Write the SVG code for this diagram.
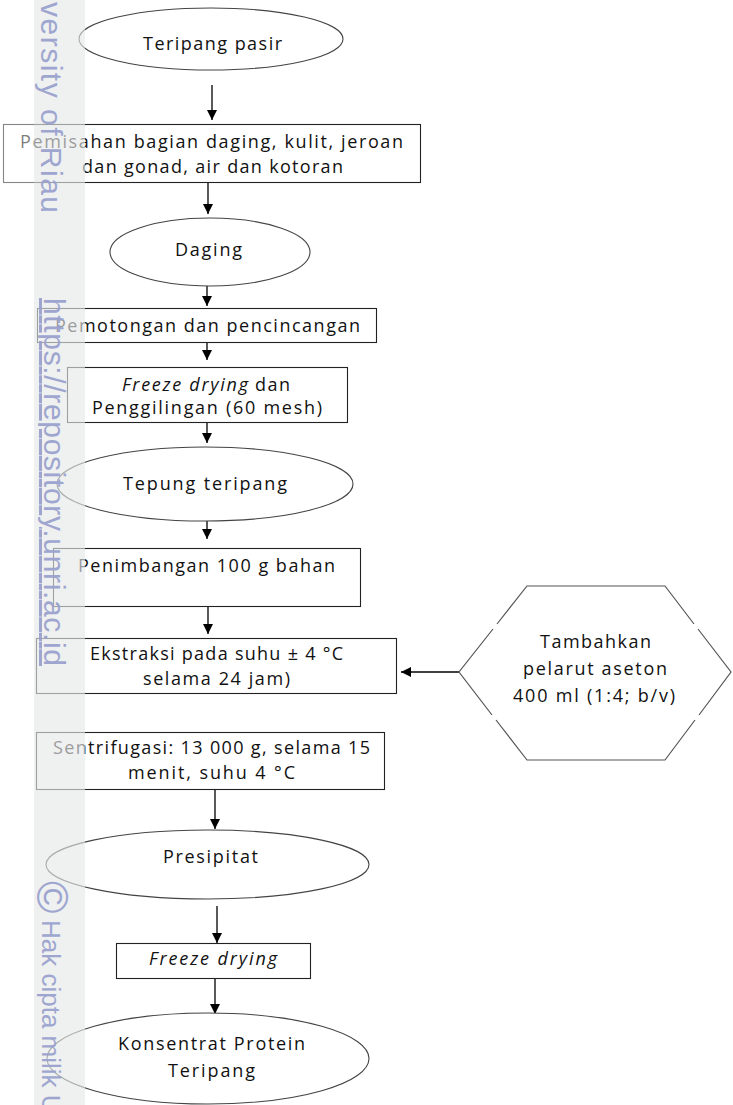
<svg xmlns="http://www.w3.org/2000/svg" width="733" height="1105" viewBox="0 0 733 1105">
<style>
  .shape { fill: #ffffff; stroke: #222222; stroke-width: 1.1; }
  .oval { fill: #ffffff; stroke: #444444; stroke-width: 1.1; }
  .hex { fill: none; stroke: #555555; stroke-width: 1.2; }
  .t { font-family: "Open Sans", "Liberation Sans", sans-serif; font-size: 18px; fill: #111111; text-anchor: middle; }
  .ts { font-family: "Open Sans", "Liberation Sans", sans-serif; font-size: 18px; fill: #111111; }
  .it { font-style: italic; }
  .conn { stroke: #000000; stroke-width: 1.3; fill: none; marker-end: url(#arrow); }
  .wm { font-family: "Liberation Sans", Arial, sans-serif; fill: #9aa3cf; opacity: 0.95; }
</style>
<defs>
  <marker id="arrow" markerUnits="userSpaceOnUse" markerWidth="10" markerHeight="10" refX="10" refY="5" orient="auto">
    <path d="M0,0 L10,5 L0,10 z" fill="#000000"/>
  </marker>
</defs>
<rect x="0" y="0" width="733" height="1105" fill="#ffffff"/>

<g id="connectors">
  <line class="conn" x1="212" y1="85" x2="212" y2="120"/>
  <line class="conn" x1="208" y1="183" x2="208" y2="214"/>
  <line class="conn" x1="207" y1="286" x2="207" y2="306"/>
  <line class="conn" x1="207" y1="343" x2="207" y2="360"/>
  <line class="conn" x1="207" y1="423" x2="207" y2="443"/>
  <line class="conn" x1="207" y1="521" x2="207" y2="539"/>
  <line class="conn" x1="208" y1="607" x2="208" y2="634"/>
  <line class="conn" x1="215" y1="790" x2="215" y2="829"/>
  <line class="conn" x1="217" y1="906" x2="217" y2="943"/>
  <line class="conn" x1="215" y1="979" x2="215" y2="1014"/>
  <line class="conn" x1="459" y1="672" x2="401" y2="672"/>
</g>

<g id="n1">
  <ellipse class="oval" cx="211" cy="39" rx="132" ry="31"/>
  <text class="t" x="212.5" y="50" font-size="19" textLength="139">Teripang pasir</text>
</g>
<g id="n2">
  <rect class="shape" x="3.5" y="124.5" width="417" height="58"/>
  <text class="t" x="211.5" y="148" textLength="383">Pemisahan bagian daging, kulit, jeroan</text>
  <text class="t" x="212.5" y="173" textLength="261">dan gonad, air dan kotoran</text>
</g>
<g id="n3">
  <ellipse class="oval" cx="210" cy="252" rx="100" ry="34"/>
  <text class="t" x="208.5" y="256" textLength="67">Daging</text>
</g>
<g id="n4">
  <rect class="shape" x="37.5" y="308.5" width="339" height="34"/>
  <text class="t" x="207.5" y="332" textLength="305">Pemotongan dan pencincangan</text>
</g>
<g id="n5">
  <rect class="shape" x="67.5" y="367.5" width="280" height="55"/>
  <text class="ts it" x="122" y="391" textLength="126">Freeze drying</text>
  <text class="ts" x="255" y="391" textLength="35">dan</text>
  <text class="t" x="207" y="414" textLength="230">Penggilingan (60 mesh)</text>
</g>
<g id="n6">
  <ellipse class="oval" cx="205" cy="484" rx="148" ry="37"/>
  <text class="t" x="205" y="490" textLength="164">Tepung teripang</text>
</g>
<g id="n7">
  <rect class="shape" x="53.5" y="548.5" width="307" height="58"/>
  <text class="t" x="206.5" y="572" textLength="257">Penimbangan 100 g bahan</text>
</g>
<g id="n8">
  <rect class="shape" x="36.5" y="638.5" width="360" height="55"/>
  <text class="t" x="216.5" y="660" textLength="253">Ekstraksi pada suhu ± 4 °C</text>
  <text class="t" x="216.5" y="685" textLength="147">selama 24 jam)</text>
</g>
<g id="n9">
  <path class="hex" d="M497,624 L527,586 L665,586 L694,624 M698,629 L731,672 L699,715 M695,720 L665,760 L527,760 L496,720 M492,715 L459,672 L493,629"/>
  <text class="t" x="595.5" y="648" textLength="111">Tambahkan</text>
  <text class="t" x="595" y="675" textLength="144">pelarut aseton</text>
  <text class="t" x="594" y="702" textLength="162">400 ml (1:4; b/v)</text>
</g>
<g id="n10">
  <rect class="shape" x="36.5" y="732.5" width="348" height="57"/>
  <text class="t" x="211.5" y="754" textLength="317">Sentrifugasi: 13 000 g, selama 15</text>
  <text class="t" x="211.5" y="779" textLength="167">menit, suhu  4 °C</text>
</g>
<g id="n11">
  <ellipse class="oval" cx="207.5" cy="864.5" rx="161.5" ry="34.5"/>
  <text class="t" x="210.5" y="863" textLength="95">Presipitat</text>
</g>
<g id="n12">
  <rect class="shape" x="116.5" y="943.5" width="194" height="35"/>
  <text class="t it" x="213" y="965" textLength="128">Freeze drying</text>
</g>
<g id="n13">
  <ellipse class="oval" cx="208" cy="1058.5" rx="161" ry="45.5"/>
  <text class="t" x="211.5" y="1050" textLength="187">Konsentrat Protein</text>
  <text class="t" x="211.5" y="1077" textLength="87">Teripang</text>
</g>

<g id="watermark">
  <rect x="0" y="0" width="85" height="1105" fill="#ffffff" opacity="0.45"/>
  <rect x="34" y="0" width="51" height="1105" fill="#d0d4d4" opacity="0.35"/>
  <text class="wm" transform="translate(41,2) rotate(90)" font-size="30" textLength="211">versity of Riau</text>
  <text class="wm" transform="translate(44,298) rotate(90)" font-size="30" text-decoration="underline" textLength="368">https://repository.unri.ac.id</text>
  <text class="wm" transform="translate(37,881) rotate(90)" font-size="44">©</text>
  <text class="wm" transform="translate(42,920) rotate(90)" font-size="26">Hak cipta milik U</text>
</g>
</svg>
